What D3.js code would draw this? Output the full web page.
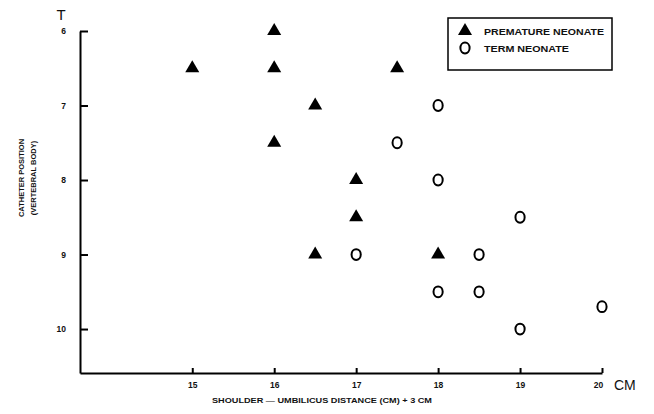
<!DOCTYPE html>
<html>
<head>
<meta charset="utf-8">
<script src="https://cdn.jsdelivr.net/npm/d3@7"></script>
<style>
html,body{margin:0;padding:0;background:#fff;}
svg{display:block;}
text{font-family:"Liberation Sans",Arial,sans-serif;fill:#111;}
</style>
</head>
<body>
<svg id="chart" width="654" height="414"></svg>
<script>
const xTicks = [15, 16, 17, 18, 19, 20];
const yTicks = [6, 7, 8, 9, 10];
const prematureX = [15, 16, 16, 16, 16.5, 17.5, 17, 17, 16.5, 18];
const prematureY = [6.5, 6, 6.5, 7.5, 7, 6.5, 8, 8.5, 9, 9];
const termX = [17.5, 18, 18, 19, 17, 18.5, 18, 18.5, 20, 19];
const termY = [7.5, 7, 8, 8.5, 9, 9, 9.5, 9.5, 9.7, 10];
const seriesNames = ["PREMATURE NEONATE", "TERM NEONATE"];
const xTitle = "SHOULDER \u2014 UMBILICUS DISTANCE (CM) + 3 CM";
const yTitle = ["CATHETER POSITION", "(VERTEBRAL BODY)"];

const svg = d3.select("#chart");
const x = d3.scaleLinear().domain([13.63, 20]).range([80, 602]);
const y = d3.scaleLinear().domain([6, 10.59]).range([31, 373]);
const fmt = d3.format("d");

// axes
const xAxis = d3.axisBottom(x).tickValues(xTicks).tickFormat(fmt).tickSize(-5).tickSizeOuter(0).tickPadding(9);
const gx = svg.append("g").attr("transform", "translate(0,373)").call(xAxis);
gx.select(".domain").attr("stroke", "#000").attr("stroke-width", 2);
gx.selectAll(".tick line").attr("stroke", "#000").attr("stroke-width", 2);
gx.selectAll(".tick text").attr("font-size", 8.5).attr("font-weight", "bold").attr("fill", "#111");
gx.selectAll(".tick text").filter(d => d === 20).attr("dx", -4);

const yAxis = d3.axisLeft(y).tickValues(yTicks).tickFormat(fmt).tickSize(-8).tickSizeOuter(0).tickPadding(14);
const gy = svg.append("g").attr("transform", "translate(80,0)").call(yAxis);
gy.select(".domain").attr("stroke", "#000").attr("stroke-width", 2);
gy.selectAll(".tick line").attr("stroke", "#000").attr("stroke-width", 2);
gy.selectAll(".tick text").attr("font-size", 8.5).attr("font-weight", "bold").attr("fill", "#111");

// axis unit labels
svg.append("text").attr("x", 61).attr("y", 20).attr("text-anchor", "middle")
  .attr("font-size", 15).text("T");
svg.append("text").attr("x", 614).attr("y", 390)
  .attr("font-size", 14).text("CM");

// titles
svg.append("text").attr("x", 212).attr("y", 403)
  .attr("font-size", 8).attr("font-weight", "bold")
  .attr("textLength", 220).attr("lengthAdjust", "spacingAndGlyphs").text(xTitle);
yTitle.forEach((t, i) => {
  svg.append("text")
    .attr("transform", `translate(${24 + i * 12},178) rotate(-90)`)
    .attr("text-anchor", "middle")
    .attr("font-size", 7.5).attr("font-weight", "bold").text(t);
});

// points
const tri = d3.symbol().type(d3.symbolTriangle).size(85);
const premature = prematureX.map((v, i) => ({x: v, y: prematureY[i]}));
const term = termX.map((v, i) => ({x: v, y: termY[i]}));

svg.append("g").selectAll("path").data(premature).join("path")
  .attr("d", tri)
  .attr("transform", d => `translate(${x(d.x)},${y(d.y)})`)
  .attr("fill", "#000");

svg.append("g").selectAll("ellipse").data(term).join("ellipse")
  .attr("cx", d => x(d.x)).attr("cy", d => y(d.y))
  .attr("rx", 4.6).attr("ry", 5.4)
  .attr("fill", "none").attr("stroke", "#000").attr("stroke-width", 2);

// legend
const lg = svg.append("g");
lg.append("rect").attr("x", 448).attr("y", 18).attr("width", 164).attr("height", 52)
  .attr("fill", "none").attr("stroke", "#000").attr("stroke-width", 1.5);
lg.append("path").attr("d", tri).attr("transform", "translate(465,31)").attr("fill", "#000");
lg.append("ellipse").attr("cx", 465).attr("cy", 48).attr("rx", 4.6).attr("ry", 5.4)
  .attr("fill", "none").attr("stroke", "#000").attr("stroke-width", 2);
const legendWidths = [120, 85];
seriesNames.forEach((n, i) => {
  lg.append("text").attr("x", 484).attr("y", 35 + i * 17)
    .attr("font-size", 8.5).attr("font-weight", "bold")
    .attr("textLength", legendWidths[i]).attr("lengthAdjust", "spacingAndGlyphs").text(n);
});
</script>
</body>
</html>
